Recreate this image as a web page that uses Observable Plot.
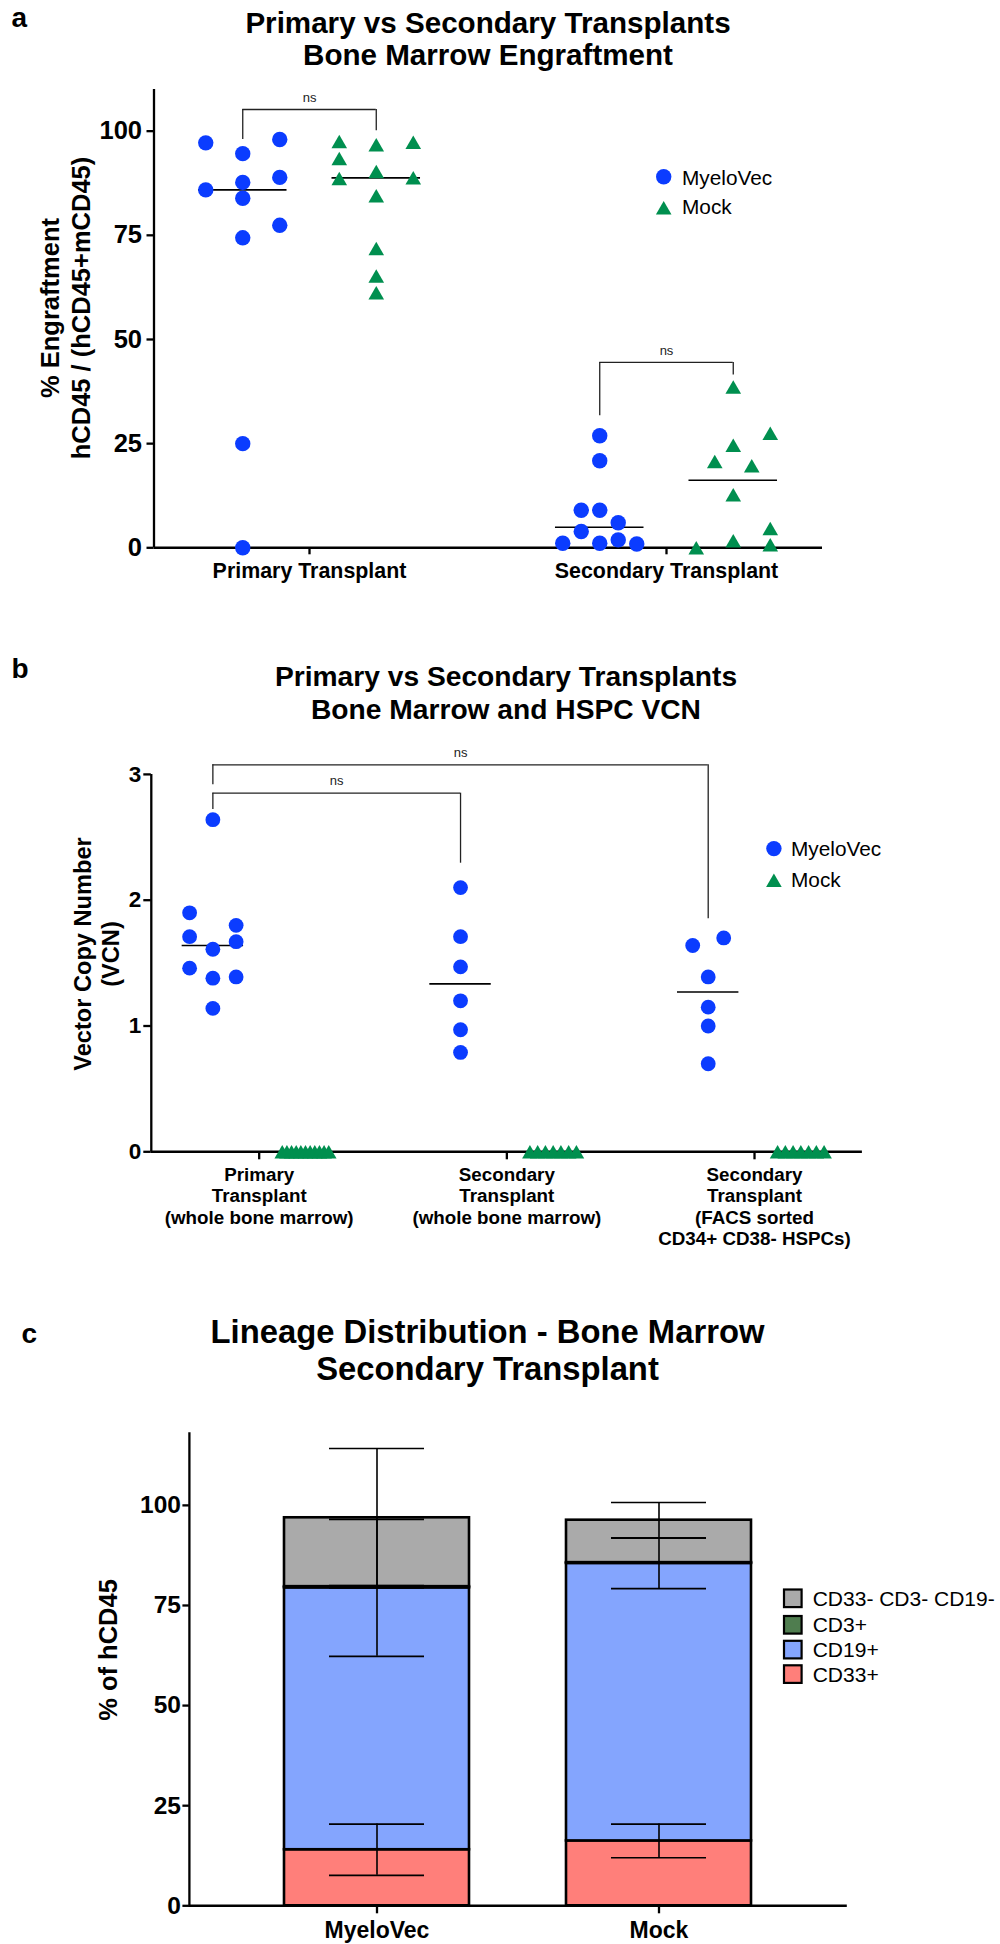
<!DOCTYPE html>
<html>
<head>
<meta charset="utf-8">
<script src="https://cdn.jsdelivr.net/npm/d3@7"></script>
<script src="https://cdn.jsdelivr.net/npm/@observablehq/plot@0.6"></script>
<style>
  body { margin: 0; background: #fff; }
  #fig { position: relative; width: 1000px; height: 1944px; background: #fff;
         font-family: "Liberation Sans", Arial, Helvetica, sans-serif; }
  #fig > svg { position: absolute; left: 0; }
</style>
</head>
<body>
<div id="fig"></div>
<script>
// ---------------- DATA ----------------
// Panel a: % engraftment
const categoriesA = ["Primary Transplant", "Secondary Transplant"];
const groupNames = ["MyeloVec", "Mock"];
const aPrimaryMyeloVec     = [97.2, 85.9, 94.6, 87.7, 83.9, 74.4, 25.0, 0.0, 98.0, 88.9, 77.4];
const aPrimaryMyeloVecCol  = [-2, -2, 0, 0, 0, 0, 0, 0, 2, 2, 2];
const aPrimaryMock         = [97.5, 93.4, 88.6, 96.7, 90.3, 84.5, 71.8, 65.2, 61.2, 97.3, 88.8];
const aPrimaryMockCol      = [-2, -2, -2, 0, 0, 0, 0, 0, 0, 2, 2];
const aSecondaryMyeloVec   = [26.9, 20.9, 9.0, 1.1, 9.0, 3.9, 6.0, 1.9, 1.1, 0.9];
const aSecondaryMyeloVecCol= [0, 0, 0, 0, -1, -1, 1, 1, -2, 2];
const aSecondaryMock       = [0.0, 20.7, 38.6, 24.6, 12.7, 1.7, 19.7, 27.5, 4.6, 0.7];
const aSecondaryMockCol    = [-2, -1, 0, 0, 0, 0, 1, 2, 2, 2];
const aTicks = [0, 25, 50, 75, 100];
const aBracketCategory = [0, 1];
const aBracketTop      = [105.2, 44.5];
const aBracketLeftEnd  = [98.0, 31.7];
const aBracketRightEnd = [100.1, 41.5];
const aBracketLabel    = ["ns", "ns"];

// Panel b: vector copy number
const categoriesB = [
  "Primary\nTransplant\n(whole bone marrow)",
  "Secondary\nTransplant\n(whole bone marrow)",
  "Secondary\nTransplant\n(FACS sorted\nCD34+ CD38- HSPCs)"
];
const bPrimaryMyeloVec      = [2.64, 1.61, 1.38, 1.14, 1.90, 1.71, 1.46, 1.80, 1.67, 1.39];
const bPrimaryMyeloVecCol   = [0, 0, 0, 0, -3, -3, -3, 3, 3, 3];
const bSecondaryMyeloVec    = [2.10, 1.71, 1.47, 1.20, 0.97, 0.79];
const bSecondaryMyeloVecCol = [0, 0, 0, 0, 0, 0];
const bSortedMyeloVec       = [1.64, 1.70, 1.39, 1.15, 1.00, 0.70];
const bSortedMyeloVecCol    = [-2, 2, 0, 0, 0, 0];
const bPrimaryMock          = [0, 0, 0, 0, 0, 0, 0, 0, 0, 0, 0];
const bPrimaryMockCol       = [-3, -2.4, -1.8, -1.2, -0.6, 0, 0.6, 1.2, 1.8, 2.4, 3];
const bSecondaryMock        = [0, 0, 0, 0, 0, 0, 0];
const bSecondaryMockCol     = [-3, -2, -1, 0, 1, 2, 3];
const bSortedMock           = [0, 0, 0, 0, 0, 0, 0];
const bSortedMockCol        = [-3, -2, -1, 0, 1, 2, 3];
const bTicks = [0, 1, 2, 3];
const bBracketFrom    = [0, 0];
const bBracketTo      = [1, 2];
const bBracketTop     = [2.851, 3.076];
const bBracketFromEnd = [2.720, 2.918];
const bBracketToEnd   = [2.294, 1.853];
const bBracketLabel   = ["ns", "ns"];

// Panel c: lineage distribution (mean, SD)
const groupsC  = ["MyeloVec", "Mock"];
const lineages = ["CD33+", "CD19+", "CD3+", "CD33- CD3- CD19-"]; // stacking order, bottom to top
const cd33Mean = [14.0, 16.2],  cd33Sd = [6.4, 4.2];
const cd19Mean = [65.4, 69.3],  cd19Sd = [17.1, 6.3];
const cd3Mean  = [0.3, 0.2],    cd3Sd  = [0.3, 0.1];
const tnMean   = [17.2, 10.6],  tnSd   = [17.3, 4.4];
const cTicks = [0, 25, 50, 75, 100];
const legendOrderC = ["CD33- CD3- CD19-", "CD3+", "CD19+", "CD33+"];

// ---------------- STYLE ----------------
const W = 1000;
const FONT = '"Liberation Sans", Arial, Helvetica, sans-serif';
const BLUE = "#0b3cff", GREEN = "#008f4f";
const lineageColors = ["#ff7f7a", "#84a5fe", "#4f7d4f", "#aaaaaa"];
const gOff = 0.187, medHalf = 0.124;
const baseStyle = {fontFamily: FONT, color: "black", background: "transparent", overflow: "visible"};
const intFmt = d => String(d);

function rowsFor(values, cols, cat, group, step) {
  return values.map((v, i) => ({cat, group, value: v,
    x: cat + (group === "MyeloVec" ? -gOff : gOff) + cols[i] * step}));
}
function medianRow(values, cat, group) {
  const c = cat + (group === "MyeloVec" ? -gOff : gOff);
  return {x1: c - medHalf, x2: c + medHalf, y: d3.median(values)};
}

const fig = document.getElementById("fig");

// ---------------- PANEL A ----------------
const A = {top: 0, height: 620, ml: 153.5, mr: 178, mt: 89, mb: 72.7, xd: [-0.4356, 1.437], yd: [0, 110]};
const pxA = (W - A.ml - A.mr) / (A.xd[1] - A.xd[0]);
const stepA = 18.5 / pxA;
const ptsA = [
  ...rowsFor(aPrimaryMyeloVec, aPrimaryMyeloVecCol, 0, "MyeloVec", stepA),
  ...rowsFor(aPrimaryMock, aPrimaryMockCol, 0, "Mock", stepA),
  ...rowsFor(aSecondaryMyeloVec, aSecondaryMyeloVecCol, 1, "MyeloVec", stepA),
  ...rowsFor(aSecondaryMock, aSecondaryMockCol, 1, "Mock", stepA)
];
const medA = [
  medianRow(aPrimaryMyeloVec, 0, "MyeloVec"), medianRow(aPrimaryMock, 0, "Mock"),
  medianRow(aSecondaryMyeloVec, 1, "MyeloVec"), medianRow(aSecondaryMock, 1, "Mock")
];
const brA = aBracketCategory.map((c, i) => ({x1: c - gOff, x2: c + gOff, top: aBracketTop[i],
  e1: aBracketLeftEnd[i], e2: aBracketRightEnd[i], label: aBracketLabel[i]}));

const plotA = Plot.plot({
  width: W, height: A.height, marginLeft: A.ml, marginRight: A.mr, marginTop: A.mt, marginBottom: A.mb,
  x: {domain: A.xd}, y: {domain: A.yd},
  style: baseStyle,
  marks: [
    Plot.ruleX([A.xd[0]], {stroke: "black", strokeWidth: 2.3}),
    Plot.ruleY([0], {stroke: "black", strokeWidth: 2.6}),
    Plot.axisY({ticks: aTicks, tickFormat: intFmt, tickSize: 7, tickPadding: 5, fontSize: 25.5, fontWeight: "bold", label: null, strokeWidth: 2.3}),
    Plot.axisX({ticks: [0, 1], tickFormat: i => categoriesA[i], tickSize: 7, tickPadding: 7.5, fontSize: 21.4, fontWeight: "bold", label: null, strokeWidth: 2.3}),
    Plot.ruleY(medA, {x1: "x1", x2: "x2", y: "y", stroke: "black", strokeWidth: 1.6}),
    Plot.ruleY(brA, {x1: "x1", x2: "x2", y: "top", stroke: "#222", strokeWidth: 1.3}),
    Plot.ruleX(brA, {x: "x1", y1: "e1", y2: "top", stroke: "#222", strokeWidth: 1.3}),
    Plot.ruleX(brA, {x: "x2", y1: "e2", y2: "top", stroke: "#222", strokeWidth: 1.3}),
    Plot.text(brA, {x: d => (d.x1 + d.x2) / 2, y: "top", text: "label", dy: -12, fontSize: 13, fill: "#222", lineAnchor: "middle"}),
    Plot.dot(ptsA.filter(d => d.group === "MyeloVec"), {x: "x", y: "value", r: 7.7, fill: BLUE, symbol: "circle"}),
    Plot.dot(ptsA.filter(d => d.group === "Mock"), {x: "x", y: "value", r: 5.8, fill: GREEN, symbol: "triangle", dy: 2.2})
  ]
});
plotA.style.top = A.top + "px";
fig.appendChild(plotA);

// ---------------- PANEL B ----------------
const B = {top: 640, height: 620, ml: 150.8, mr: 138.1, mt: 133.9, mb: 108.7, xd: [-0.4356, 2.4356], yd: [0, 3]};
const pxB = (W - B.ml - B.mr) / (B.xd[1] - B.xd[0]);
const stepB = 7.75 / pxB;
const ptsB = [
  ...rowsFor(bPrimaryMyeloVec, bPrimaryMyeloVecCol, 0, "MyeloVec", stepB),
  ...rowsFor(bSecondaryMyeloVec, bSecondaryMyeloVecCol, 1, "MyeloVec", stepB),
  ...rowsFor(bSortedMyeloVec, bSortedMyeloVecCol, 2, "MyeloVec", stepB),
  ...rowsFor(bPrimaryMock, bPrimaryMockCol, 0, "Mock", stepB),
  ...rowsFor(bSecondaryMock, bSecondaryMockCol, 1, "Mock", stepB),
  ...rowsFor(bSortedMock, bSortedMockCol, 2, "Mock", stepB)
];
const medB = [
  medianRow(bPrimaryMyeloVec, 0, "MyeloVec"),
  medianRow(bSecondaryMyeloVec, 1, "MyeloVec"),
  medianRow(bSortedMyeloVec, 2, "MyeloVec")
];
const brB = bBracketFrom.map((c, i) => ({x1: c - gOff, x2: bBracketTo[i] - gOff, top: bBracketTop[i],
  e1: bBracketFromEnd[i], e2: bBracketToEnd[i], label: bBracketLabel[i]}));

const plotB = Plot.plot({
  width: W, height: B.height, marginLeft: B.ml, marginRight: B.mr, marginTop: B.mt, marginBottom: B.mb,
  x: {domain: B.xd}, y: {domain: B.yd},
  style: baseStyle,
  marks: [
    Plot.ruleX([B.xd[0]], {stroke: "black", strokeWidth: 2.3}),
    Plot.ruleY([0], {stroke: "black", strokeWidth: 2.6}),
    Plot.axisY({ticks: bTicks, tickFormat: intFmt, tickSize: 7.5, tickPadding: 2.5, fontSize: 22.5, fontWeight: "bold", label: null, strokeWidth: 2.3}),
    Plot.axisX({ticks: [0, 1, 2], tickFormat: i => categoriesB[i], tickSize: 8, tickPadding: 5.7, fontSize: 18.8, lineHeight: 1.14, fontWeight: "bold", label: null, strokeWidth: 2.3}),
    Plot.ruleY(medB, {x1: "x1", x2: "x2", y: "y", stroke: "black", strokeWidth: 1.6}),
    Plot.ruleY(brB, {x1: "x1", x2: "x2", y: "top", stroke: "#222", strokeWidth: 1.3}),
    Plot.ruleX(brB, {x: "x1", y1: "e1", y2: "top", stroke: "#222", strokeWidth: 1.3}),
    Plot.ruleX(brB, {x: "x2", y1: "e2", y2: "top", stroke: "#222", strokeWidth: 1.3}),
    Plot.text(brB, {x: d => (d.x1 + d.x2) / 2, y: "top", text: "label", dy: -12, fontSize: 13, fill: "#222", lineAnchor: "middle"}),
    Plot.dot(ptsB.filter(d => d.group === "MyeloVec"), {x: "x", y: "value", r: 7.4, fill: BLUE, symbol: "circle"}),
    Plot.dot(ptsB.filter(d => d.group === "Mock"), {x: "x", y: "value", r: 5.8, fill: GREEN, symbol: "triangle", dy: 2.2})
  ]
});
plotB.style.top = B.top + "px";
fig.appendChild(plotB);

// ---------------- PANEL C ----------------
const C = {top: 1300, height: 644, ml: 188.9, mr: 153.2, mt: 132.8, mb: 38.7, yd: [0, 118]};
const meansC = [cd33Mean, cd19Mean, cd3Mean, tnMean];
const sdsC = [cd33Sd, cd19Sd, cd3Sd, tnSd];
const rowsC = [];
groupsC.forEach((g, gi) => {
  let cum = 0;
  lineages.forEach((l, li) => {
    cum += meansC[li][gi];
    rowsC.push({group: g, lineage: l, mean: meansC[li][gi], sd: sdsC[li][gi], top: cum});
  });
});

const plotC = Plot.plot({
  width: W, height: C.height, marginLeft: C.ml, marginRight: C.mr, marginTop: C.mt, marginBottom: C.mb,
  x: {domain: groupsC, paddingInner: 0.344, paddingOuter: 0.335},
  y: {domain: C.yd},
  color: {domain: lineages, range: lineageColors},
  style: baseStyle,
  marks: [
    Plot.frame({anchor: "left", stroke: "black", strokeWidth: 2.3}),
    Plot.barY(rowsC, {x: "group", y: "mean", fill: "lineage", stroke: "black", strokeWidth: 2.6}),
    Plot.ruleY([0], {stroke: "black", strokeWidth: 2.6}),
    Plot.axisY({ticks: cTicks, tickFormat: intFmt, tickSize: 6.5, tickPadding: 2, fontSize: 24.5, fontWeight: "bold", label: null, strokeWidth: 2.3}),
    Plot.axisX({tickSize: 8, tickPadding: 7.7, fontSize: 23, fontWeight: "bold", label: null, strokeWidth: 2.3}),
    Plot.ruleX(rowsC, {x: "group", y1: d => d.top - d.sd, y2: d => d.top + d.sd, stroke: "black", strokeWidth: 1.6}),
    Plot.tickY(rowsC, {x: "group", y: d => d.top - d.sd, insetLeft: 45, insetRight: 45, stroke: "black", strokeWidth: 1.6}),
    Plot.tickY(rowsC, {x: "group", y: d => d.top + d.sd, insetLeft: 45, insetRight: 45, stroke: "black", strokeWidth: 1.6})
  ]
});
plotC.style.top = C.top + "px";
fig.appendChild(plotC);

// ---------------- TEXT OVERLAY (titles, labels, legends) ----------------
const ov = d3.select(fig).append("svg")
  .attr("width", W).attr("height", 1944)
  .style("position", "absolute").style("top", "0px").style("left", "0px")
  .style("pointer-events", "none")
  .attr("font-family", FONT);

function txt(x, y, s, size, weight, anchor) {
  return ov.append("text").attr("x", x).attr("y", y).attr("font-size", size)
    .attr("font-weight", weight || "normal").attr("text-anchor", anchor || "start")
    .attr("fill", "black").text(s);
}
function vtxt(x, y, s, size) {
  return ov.append("text").attr("transform", `translate(${x},${y}) rotate(-90)`)
    .attr("font-size", size).attr("font-weight", "bold").attr("text-anchor", "middle")
    .attr("fill", "black").text(s);
}

// panel letters
txt(11.5, 26.8, "a", 28, "bold");
txt(11.5, 678.3, "b", 28, "bold");
txt(21.4, 1343.1, "c", 28, "bold");

// titles
txt(488, 32.5, "Primary vs Secondary Transplants", 29.6, "bold", "middle");
txt(488, 65, "Bone Marrow Engraftment", 29.6, "bold", "middle");
txt(506, 686, "Primary vs Secondary Transplants", 28.2, "bold", "middle");
txt(506, 718.5, "Bone Marrow and HSPC VCN", 28.2, "bold", "middle");
txt(487.5, 1343.1, "Lineage Distribution - Bone Marrow", 32.8, "bold", "middle");
txt(487.5, 1380, "Secondary Transplant", 32.8, "bold", "middle");

// y-axis titles
vtxt(58.5, 308, "% Engraftment", 25.5);
vtxt(90, 308, "hCD45 / (hCD45+mCD45)", 25.5);
vtxt(91, 954, "Vector Copy Number", 23.6);
vtxt(118.5, 954, "(VCN)", 23.6);
vtxt(116.5, 1650, "% of hCD45", 25.5);

// legends a & b
const triPath = d3.symbol(d3.symbolTriangle, Math.PI * 5.8 * 5.8)();
function symLegend(cx, cy1, cy2, tx, by1, by2) {
  ov.append("circle").attr("cx", cx).attr("cy", cy1).attr("r", 7.7).attr("fill", BLUE);
  ov.append("path").attr("d", triPath).attr("transform", `translate(${cx},${cy2 + 2.2})`).attr("fill", GREEN);
  txt(tx, by1, groupNames[0], 20.8);
  txt(tx, by2, groupNames[1], 20.8);
}
symLegend(663.7, 176.8, 207.8, 682, 184.8, 214.3);
symLegend(773.9, 848.6, 880.3, 791, 855.5, 886.8);

// legend c
const legY = [1589.5, 1616, 1640.8, 1665.3];
const legBase = [1606, 1631.8, 1657.3, 1681.9];
legendOrderC.forEach((l, i) => {
  ov.append("rect").attr("x", 784).attr("y", legY[i]).attr("width", 17.6).attr("height", 17.6)
    .attr("fill", lineageColors[lineages.indexOf(l)]).attr("stroke", "black").attr("stroke-width", 2.2);
  txt(812.7, legBase[i], l, 21);
});
</script>
</body>
</html>
